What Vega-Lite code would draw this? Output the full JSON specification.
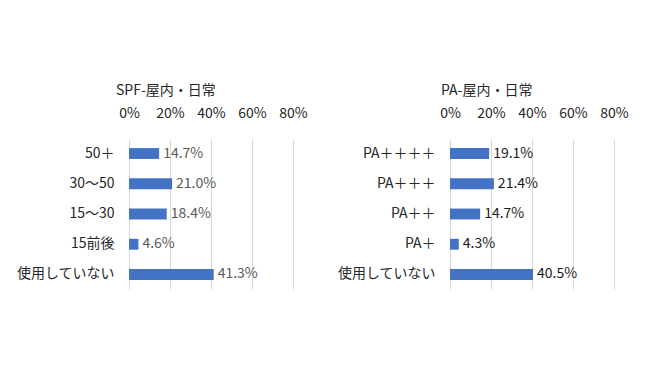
{
  "$schema": "https://vega.github.io/schema/vega-lite/v6.json",
  "background": "white",
  "padding": {"top": 84, "left": 16, "right": 5, "bottom": 5},
  "config": {
    "font": "Noto Sans CJK JP",
    "view": {"stroke": null},
    "concat": {"spacing": 29},
    "axis": {"labelFont": "Noto Sans CJK JP", "labelFontSize": 14, "labelColor": "#262626"},
    "title": {"font": "Noto Sans CJK JP", "fontSize": 14, "fontWeight": "normal", "color": "#262626"}
  },
  "datasets": {
    "spf": [
      {"cat": "50＋", "v": 0.147},
      {"cat": "30〜50", "v": 0.210},
      {"cat": "15〜30", "v": 0.184},
      {"cat": "15前後", "v": 0.046},
      {"cat": "使用していない", "v": 0.413}
    ],
    "pa": [
      {"cat": "PA＋＋＋＋", "v": 0.191},
      {"cat": "PA＋＋＋", "v": 0.214},
      {"cat": "PA＋＋", "v": 0.147},
      {"cat": "PA＋", "v": 0.043},
      {"cat": "使用していない", "v": 0.405}
    ]
  },
  "hconcat": [
    {
      "width": 164,
      "height": 150,
      "data": {"name": "spf"},
      "title": {"text": "SPF-屋内・日常", "anchor": "start", "frame": "group", "dx": -13, "offset": 8},
      "encoding": {
        "y": {"field": "cat", "type": "nominal", "sort": null, "title": null,
          "scale": {"paddingInner": 0.64, "paddingOuter": 0.3},
          "axis": {"domain": false, "ticks": false, "labelPadding": 15}},
        "x": {"field": "v", "type": "quantitative", "title": null,
          "scale": {"domain": [0, 0.8], "nice": false},
          "axis": {"orient": "top", "values": [0, 0.2, 0.4, 0.6, 0.8], "format": ".0%", "domain": false, "ticks": false, "grid": true, "gridColor": "#d9d9d9", "labelPadding": 19, "labelFlush": false}}
      },
      "layer": [
        {"mark": {"type": "bar", "color": "#4472C4"}},
        {"mark": {"type": "text", "align": "left", "dx": 4, "fontSize": 14, "color": "#595959"},
          "encoding": {"text": {"field": "v", "type": "quantitative", "format": ".1%"}}}
      ]
    },
    {
      "width": 164,
      "height": 150,
      "data": {"name": "pa"},
      "title": {"text": "PA-屋内・日常", "anchor": "start", "frame": "group", "dx": -9, "offset": 8},
      "encoding": {
        "y": {"field": "cat", "type": "nominal", "sort": null, "title": null,
          "scale": {"paddingInner": 0.64, "paddingOuter": 0.3},
          "axis": {"domain": false, "ticks": false, "labelPadding": 15}},
        "x": {"field": "v", "type": "quantitative", "title": null,
          "scale": {"domain": [0, 0.8], "nice": false},
          "axis": {"orient": "top", "values": [0, 0.2, 0.4, 0.6, 0.8], "format": ".0%", "domain": false, "ticks": false, "grid": true, "gridColor": "#d9d9d9", "labelPadding": 19, "labelFlush": false}}
      },
      "layer": [
        {"mark": {"type": "bar", "color": "#4472C4"}},
        {"mark": {"type": "text", "align": "left", "dx": 4, "fontSize": 14, "color": "#1a1a1a"},
          "encoding": {"text": {"field": "v", "type": "quantitative", "format": ".1%"}}}
      ]
    }
  ],
  "resolve": {"scale": {"y": "independent"}}
}
